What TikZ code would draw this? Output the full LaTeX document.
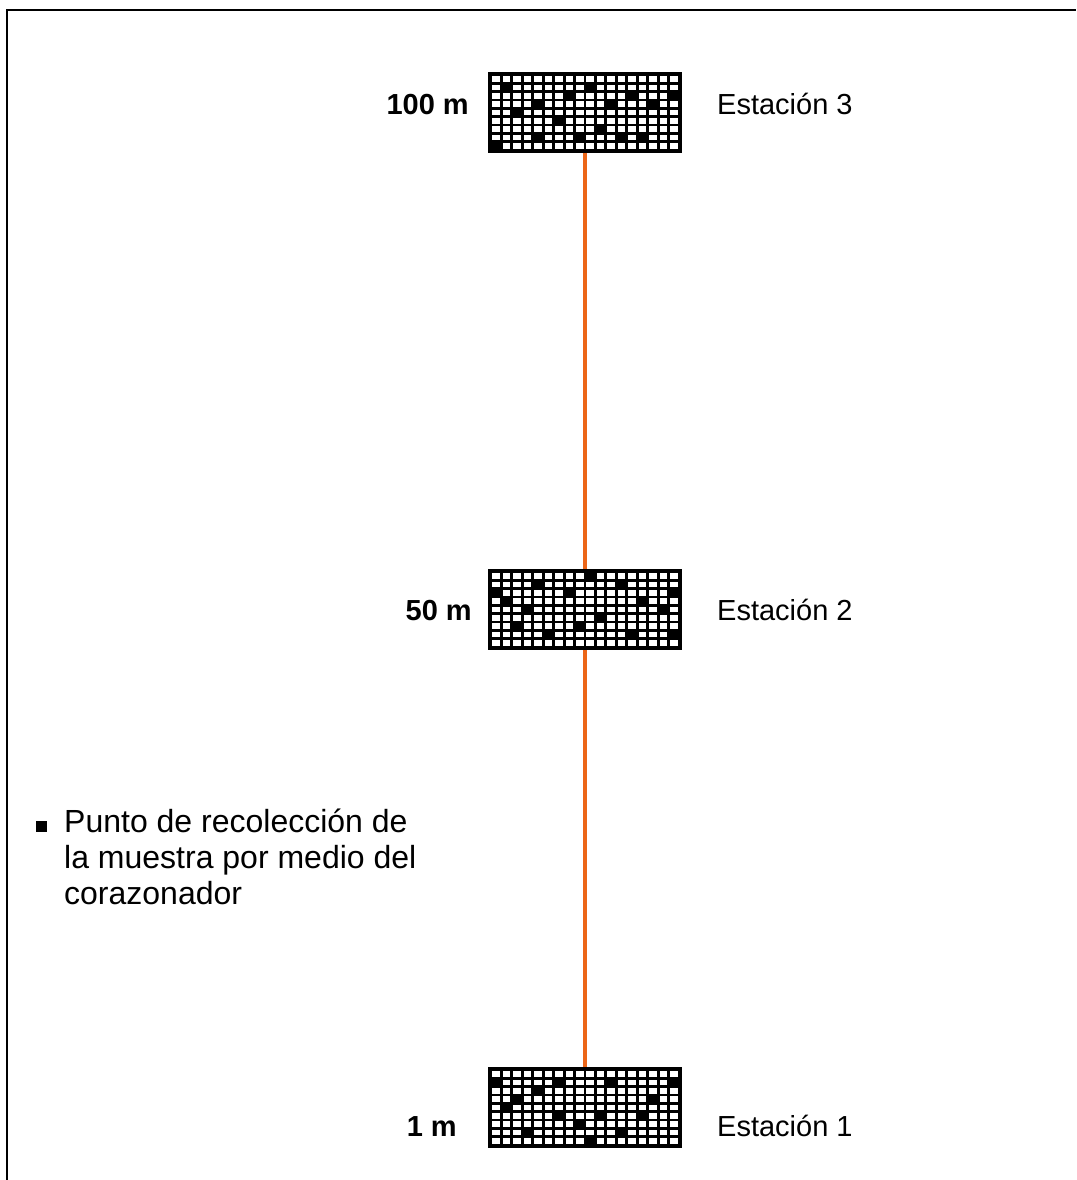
\documentclass[tikz,border=0pt]{standalone}
\usepackage{fontspec}
\setmainfont{Liberation Sans}
\definecolor{rope}{RGB}{236,102,24}
\tikzset{
  gridbox/.style={rectangle, fill=black, draw=none, inner sep=0pt, minimum width=194pt, minimum height=81pt},
  lbl/.style={inner sep=0pt, font=\fontsize{29}{34}\selectfont},
  depthlbl/.style={inner sep=0pt, anchor=base east, font=\fontsize{29}{34}\selectfont\bfseries},
  leg/.style={inner sep=0pt, anchor=base west, font=\fontsize{32}{36}\selectfont},
  ropeline/.style={rope, line width=3.5pt},
}
\newcommand\samplegrid[3]{%
  \node[gridbox] (#1) at (585,{#2+40.5}) {};
  \foreach \i in {0,...,17}{\foreach \j in {0,...,8}{%
    \fill[white] ({491+\i*10.444+1.4},{#2+3+\j*8.333+1.2}) rectangle ++(7.6,5.9);}}
  \foreach \i/\j in {#3}{%
    \fill[black] ({491+\i*10.444},{#2+3+\j*8.333}) rectangle ++(10.444,8.333);}
}
\begin{document}
\begin{tikzpicture}[x=1pt,y=-1pt]
\useasboundingbox (0,0) rectangle (1076,1180);
\coordinate (fbl) at (7,1180);
\coordinate (ftl) at (7,10);
\coordinate (ftr) at (1076,10);
\draw[line width=2pt] (fbl) -- (ftl) -- (ftr);

\samplegrid{g3}{72}{1/1,9/1,7/2,13/2,17/2,4/3,11/3,15/3,2/4,6/5,10/6,4/7,8/7,12/7,14/7,0/8}
\samplegrid{g2}{569}{9/0,4/1,12/1,0/2,7/2,17/2,1/3,14/3,3/4,16/4,10/5,2/6,8/6,5/7,13/7,17/7}
\samplegrid{g1}{1067}{0/1,6/1,11/1,17/1,4/2,2/3,15/3,1/4,6/5,10/5,14/5,8/6,3/7,12/7,9/8}

\draw[ropeline] (g3.south) -- (g2.north);
\draw[ropeline] (g2.south) -- (g1.north);

\node[depthlbl] (d3) at (469,115) {100 m};
\node[depthlbl] (d2) at (472,620) {50 m};
\node[depthlbl] (d1) at (457,1136) {1 m};
\node[lbl, anchor=base west] (e3) at (717,115) {Estación 3};
\node[lbl, anchor=base west] (e2) at (717,620) {Estación 2};
\node[lbl, anchor=base west] (e1) at (717,1136) {Estación 1};

\node[rectangle, fill=black, inner sep=0pt, minimum width=11pt, minimum height=11pt] (bullet) at (41,826) {};
\node[leg] (leg1) at (64,832) {Punto de recolección de};
\node[leg] (leg2) at (64,868) {la muestra por medio del};
\node[leg] (leg3) at (64,904) {corazonador};
\end{tikzpicture}
\end{document}
